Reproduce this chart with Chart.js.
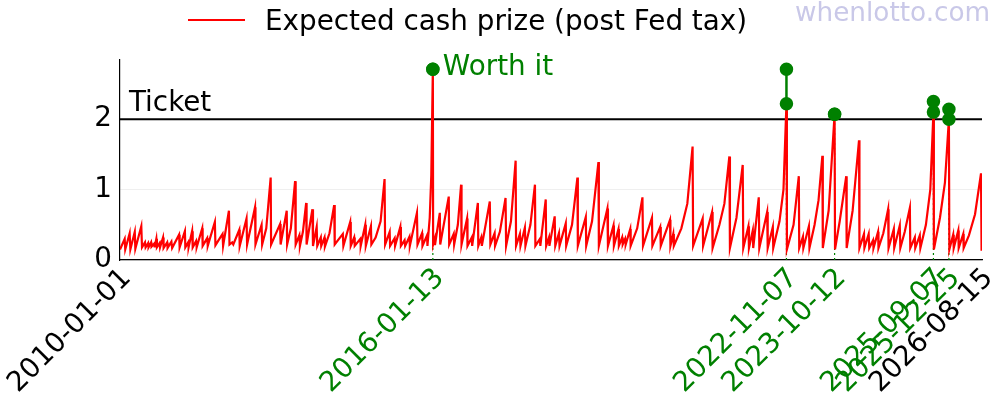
<!DOCTYPE html>
<html>
<head>
<meta charset="utf-8">
<script src="https://cdn.jsdelivr.net/npm/chart.js@4.4.1/dist/chart.umd.min.js"></script>
<style>
  html, body { margin: 0; padding: 0; background: #fff; }
  #wrap { width: 1000px; height: 400px; }
</style>
</head>
<body>
<div id="wrap"><canvas id="prize" width="1000" height="400"></canvas></div>
<script>
// days are counted from this date
const startDate = '2010-01-01';
const endDate = '2026-08-15';

// sawtooth of the jackpot: draw day (days since startDate) and expected cash prize ($)
const drawDay = [
  0, 33, 37, 68, 73, 104, 108, 150, 155, 176, 180, 198, 201, 219, 222, 240, 244, 256, 260, 279,
  282, 303, 307, 332, 335, 362, 367, 416, 420, 457, 460, 480, 483, 508, 512, 536, 540, 579, 582, 614,
  618, 668, 672, 722, 726, 767, 771, 790, 798, 840, 843, 891, 895, 951, 954, 997, 1001, 1030, 1061, 1064,
  1127, 1131, 1174, 1177, 1203, 1233, 1237, 1263, 1267, 1288, 1311, 1314, 1355, 1359, 1385, 1389, 1414, 1417, 1440, 1443,
  1475, 1508, 1512, 1569, 1573, 1621, 1625, 1649, 1653, 1692, 1695, 1727, 1731, 1767, 1770, 1800, 1835, 1863, 1867, 1899,
  1902, 1934, 1937, 1974, 1978, 2004, 2008, 2038, 2041, 2091, 2095, 2127, 2130, 2162, 2165, 2181, 2192, 2203, 2205, 2216,
  2218, 2252, 2255, 2315, 2318, 2350, 2353, 2379, 2402, 2405, 2444, 2447, 2477, 2480, 2520, 2523, 2544, 2548, 2604, 2608,
  2638, 2641, 2675, 2715, 2719, 2753, 2786, 2789, 2816, 2820, 2851, 2855, 2890, 2922, 2925, 2957, 2960, 2998, 3001, 3021,
  3024, 3061, 3065, 3091, 3095, 3139, 3142, 3183, 3221, 3224, 3280, 3283, 3324, 3369, 3372, 3432, 3436, 3475, 3478, 3510,
  3513, 3536, 3540, 3557, 3561, 3593, 3596, 3642, 3679, 3683, 3746, 3749, 3804, 3808, 3873, 3876, 3896, 3900, 3953, 3995,
  4032, 4036, 4103, 4106, 4169, 4173, 4221, 4256, 4291, 4295, 4341, 4385, 4389, 4425, 4429, 4456, 4459, 4498, 4502, 4557,
  4561, 4597, 4600, 4644, 4672, 4693, 4696, 4743, 4780, 4783, 4809, 4812, 4851, 4855, 4891, 4919, 4946, 4949, 4990, 5032,
  5035, 5068, 5114, 5117, 5159, 5204, 5207, 5239, 5242, 5272, 5276, 5303, 5306, 5338, 5341, 5375, 5409, 5412, 5449, 5452,
  5491, 5495, 5526, 5562, 5565, 5597, 5600, 5632, 5636, 5675, 5706, 5728, 5731, 5774, 5809, 5837, 5840, 5867, 5871, 5903,
  5906, 5938, 5941, 5978, 6021, 6063, 6067
];
const cashValue = [
  0.15, 0.30, 0.15, 0.38, 0.15, 0.40, 0.16, 0.48, 0.18, 0.25, 0.18, 0.24, 0.18, 0.25, 0.19, 0.23, 0.18, 0.30, 0.18, 0.24,
  0.18, 0.32, 0.17, 0.25, 0.17, 0.26, 0.17, 0.36, 0.18, 0.41, 0.18, 0.25, 0.18, 0.41, 0.18, 0.27, 0.18, 0.45, 0.20, 0.31,
  0.20, 0.54, 0.21, 0.37, 0.20, 0.70, 0.22, 0.25, 0.22, 0.43, 0.20, 0.59, 0.22, 0.75, 0.22, 0.50, 0.22, 0.45, 1.17, 0.22,
  0.51, 0.22, 0.70, 0.22, 0.45, 1.12, 0.22, 0.35, 0.20, 0.40, 0.81, 0.22, 0.72, 0.20, 0.47, 0.20, 0.32, 0.20, 0.32, 0.19,
  0.38, 0.78, 0.22, 0.37, 0.20, 0.54, 0.20, 0.32, 0.20, 0.30, 0.20, 0.50, 0.20, 0.48, 0.22, 0.32, 0.55, 1.15, 0.22, 0.40,
  0.20, 0.31, 0.20, 0.47, 0.20, 0.28, 0.20, 0.33, 0.20, 0.67, 0.22, 0.38, 0.20, 0.35, 0.20, 0.60, 1.20, 2.71, 0.22, 0.30,
  0.21, 0.67, 0.22, 0.90, 0.22, 0.37, 0.22, 0.50, 1.07, 0.22, 0.59, 0.20, 0.32, 0.20, 0.81, 0.20, 0.32, 0.20, 0.83, 0.22,
  0.38, 0.20, 0.40, 0.88, 0.20, 0.55, 1.41, 0.20, 0.37, 0.20, 0.46, 0.20, 0.50, 1.07, 0.20, 0.30, 0.20, 0.86, 0.20, 0.32,
  0.20, 0.62, 0.20, 0.38, 0.20, 0.52, 0.20, 0.50, 1.17, 0.20, 0.61, 0.20, 0.55, 1.39, 0.20, 0.73, 0.20, 0.49, 0.20, 0.44,
  0.20, 0.32, 0.22, 0.30, 0.22, 0.44, 0.20, 0.45, 0.89, 0.20, 0.60, 0.20, 0.47, 0.20, 0.57, 0.20, 0.37, 0.20, 0.45, 0.80,
  1.61, 0.20, 0.59, 0.20, 0.68, 0.17, 0.50, 0.80, 1.47, 0.17, 0.60, 1.35, 0.17, 0.48, 0.17, 0.42, 0.17, 0.89, 0.17, 0.68,
  0.17, 0.47, 0.17, 0.55, 1.00, 2.22, 0.15, 0.50, 1.19, 0.17, 0.33, 0.17, 0.48, 0.17, 0.50, 0.85, 1.48, 0.17, 0.70, 2.07,
  0.15, 0.55, 1.19, 0.17, 0.70, 1.70, 0.17, 0.37, 0.17, 0.37, 0.17, 0.28, 0.17, 0.40, 0.17, 0.38, 0.72, 0.17, 0.44, 0.17,
  0.49, 0.17, 0.40, 0.74, 0.17, 0.32, 0.17, 0.35, 0.17, 0.50, 1.00, 2.10, 0.15, 0.60, 1.10, 2.00, 0.15, 0.36, 0.17, 0.42,
  0.17, 0.37, 0.17, 0.35, 0.65, 1.23, 0.13
];

const tickDates = ['2010-01-01', '2016-01-13', '2022-11-07', '2023-10-12', '2025-09-07', '2025-12-25', '2026-08-15'];
const yTicks = [0, 1, 2];

// draws where the prize beat the ticket
const eventDates = ['2016-01-13', '2022-11-07', '2023-10-12', '2025-09-07', '2025-12-25'];
const eventCash = [2.71, 2.22, 2.07, 2.10, 2.00];
const eventTop = [2.71, 2.71, 2.07, 2.25, 2.14];
const ticketPrice = 2;

const FONT = 'DejaVu Sans';
const SIZE = 27.8;

function dayOf(s) {
  return Math.round((Date.parse(s) - Date.parse(startDate)) / 86400000);
}
function dateOf(d) {
  return new Date(Date.parse(startDate) + d * 86400000).toISOString().slice(0, 10);
}

const lastDay = dayOf(endDate);
const datasets = [];

// green markers (drawn on top)
eventDates.forEach((s, i) => {
  datasets.push({
    data: [{x: dayOf(s), y: eventCash[i]}, {x: dayOf(s), y: eventTop[i]}],
    borderColor: 'green',
    backgroundColor: 'green',
    borderWidth: 2.5,
    pointRadius: 5.5,
    pointHoverRadius: 5.5,
    order: 0
  });
});

datasets.push({
  label: 'Expected cash prize (post Fed tax)',
  data: drawDay.map((d, i) => ({x: d, y: cashValue[i]})),
  borderColor: 'red',
  borderWidth: 2.2,
  pointRadius: 0,
  tension: 0,
  order: 1
});

datasets.push({
  data: [{x: 0, y: ticketPrice}, {x: lastDay, y: ticketPrice}],
  borderColor: 'black',
  borderWidth: 2,
  pointRadius: 0,
  order: 2
});

eventDates.forEach((s, i) => {
  datasets.push({
    data: [{x: dayOf(s), y: 0}, {x: dayOf(s), y: eventCash[i]}],
    borderColor: 'green',
    borderWidth: 1.2,
    borderDash: [2, 3],
    pointRadius: 0,
    order: 3
  });
});

const textPlugin = {
  id: 'texts',
  afterDraw(chart) {
    const c = chart.ctx;
    const xs = chart.scales.x, ys = chart.scales.y;
    c.save();
    // legend
    c.strokeStyle = 'red';
    c.lineWidth = 2;
    c.beginPath();
    c.moveTo(188, 20);
    c.lineTo(245, 20);
    c.stroke();
    c.font = SIZE + 'px "' + FONT + '"';
    c.fillStyle = 'black';
    c.textAlign = 'left';
    c.textBaseline = 'alphabetic';
    c.fillText('Expected cash prize (post Fed tax)', 265, 30);
    // watermark
    c.font = '26.3px "' + FONT + '"';
    c.fillStyle = '#c9c8e8';
    c.fillText('whenlotto.com', 795, 21);
    // ticket label
    c.font = SIZE + 'px "' + FONT + '"';
    c.fillStyle = 'black';
    c.fillText('Ticket', chart.chartArea.left + 9, ys.getPixelForValue(ticketPrice) - 8);
    // worth it label
    c.fillStyle = 'green';
    c.textBaseline = 'middle';
    c.fillText('Worth it', xs.getPixelForValue(dayOf(eventDates[0])) + 10, ys.getPixelForValue(eventTop[0]) - 1);
    c.restore();
  }
};

new Chart(document.getElementById('prize'), {
  type: 'line',
  data: {datasets: datasets},
  options: {
    responsive: false,
    animation: false,
    events: [],
    layout: {padding: {top: 60, right: 18, left: 0, bottom: 0}},
    scales: {
      x: {
        type: 'linear',
        min: 0,
        max: lastDay,
        afterBuildTicks: axis => { axis.ticks = tickDates.map(s => ({value: dayOf(s)})); },
        afterFit: axis => { axis.height = 140; },
        grid: {display: false},
        border: {color: 'black', width: 1.2},
        ticks: {
          autoSkip: false,
          maxRotation: 45,
          minRotation: 45,
          padding: -6,
          labelOffset: 7,
          font: {family: FONT, size: SIZE},
          color: ctx => (ctx.index === 0 || ctx.index === tickDates.length - 1) ? 'black' : 'green',
          callback: v => dateOf(v)
        }
      },
      y: {
        min: 0,
        max: 2.84,
        afterBuildTicks: axis => { axis.ticks = yTicks.map(v => ({value: v})); },
        afterFit: axis => { axis.width = 120; },
        grid: {color: '#efefef', drawTicks: false},
        border: {color: 'black', width: 1.2},
        ticks: {
          padding: 8,
          font: {family: FONT, size: SIZE},
          color: 'black'
        }
      }
    },
    plugins: {
      legend: {display: false},
      tooltip: {enabled: false}
    }
  },
  plugins: [textPlugin]
});
</script>
</body>
</html>
